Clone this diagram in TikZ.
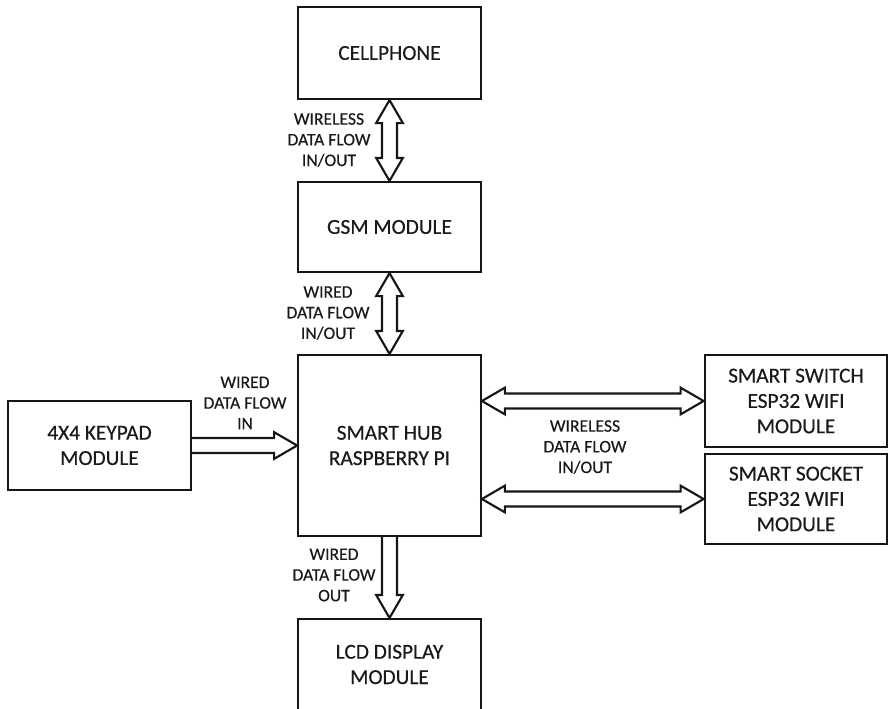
\documentclass[tikz,border=0pt]{standalone}
\usepackage{fontspec}
\setmainfont{Carlito}[FakeBold=0.4]
\usepackage{tikz}
\usetikzlibrary{calc}
\definecolor{HubInk}{HTML}{161616}
\definecolor{HubText}{HTML}{1A1A1A}
\newcommand{\headlen}{17.25pt}
\newcommand{\headhw}{10pt}
\newcommand{\shafthw}{5.6pt}
\tikzset{
  blk/.style={draw=HubInk, line width=1.6pt, minimum width=137pt, inner sep=0pt,
    align=center, text=HubText, font=\fontsize{16}{19}\selectfont},
  flowlbl/.style={align=center, text=HubText, inner sep=0pt,
    font=\fontsize{13.2}{15.5}\selectfont},
  flowline/.style={draw=HubInk, line width=1.6pt, line join=miter}
}
\newcommand{\dblflow}[2]{%
  \draw[flowline] (#1)
    -- ($(#1)!\headlen!(#2)!\headhw!90:(#2)$)
    -- ($(#1)!\headlen!(#2)!\shafthw!90:(#2)$)
    -- ($(#2)!\headlen!(#1)!\shafthw!270:(#1)$)
    -- ($(#2)!\headlen!(#1)!\headhw!270:(#1)$)
    -- (#2)
    -- ($(#2)!\headlen!(#1)!\headhw!90:(#1)$)
    -- ($(#2)!\headlen!(#1)!\shafthw!90:(#1)$)
    -- ($(#1)!\headlen!(#2)!\shafthw!270:(#2)$)
    -- ($(#1)!\headlen!(#2)!\headhw!270:(#2)$)
    -- cycle;}
\newcommand{\oneflow}[2]{%
  \draw[flowline] ($(#1)!\shafthw!90:(#2)$)
    -- ($(#2)!\headlen!(#1)!\shafthw!270:(#1)$)
    -- ($(#2)!\headlen!(#1)!\headhw!270:(#1)$)
    -- (#2)
    -- ($(#2)!\headlen!(#1)!\headhw!90:(#1)$)
    -- ($(#2)!\headlen!(#1)!\shafthw!90:(#1)$)
    -- ($(#1)!\shafthw!270:(#2)$);}

\begin{document}
\begin{tikzpicture}[x=0.75pt, y=-0.75pt]
  \useasboundingbox (0,0) rectangle (888,708);
  \clip (0,0) rectangle (888,708);
  \foreach \nm/\cx/\cy/\bh/\txt in {
    cell/389.5/53/69pt/CELLPHONE,
    gsm/389.5/227/67.5pt/GSM MODULE,
    hub/389.5/445.5/135.75pt/{SMART HUB\\RASPBERRY PI},
    kp/99.5/445.5/66.75pt/{4X4 KEYPAD\\MODULE},
    sw/796/401/69pt/{SMART SWITCH\\ESP32 WIFI\\MODULE},
    sk/796/499/67.5pt/{SMART SOCKET\\ESP32 WIFI\\MODULE},
    lcd/389.5/664.5/68.25pt/{LCD DISPLAY\\MODULE}}{
    \node[blk, minimum height=\bh] (\nm) at (\cx,\cy) {\txt};
  }
  \coordinate (hubsw) at (hub.east |- sw.west);
  \coordinate (hubsk) at (hub.east |- sk.west);
  \dblflow{cell.south}{gsm.north}
  \dblflow{gsm.south}{hub.north}
  \dblflow{hubsw}{sw.west}
  \dblflow{hubsk}{sk.west}
  \oneflow{kp.east}{hub.west}
  \oneflow{hub.south}{lcd.north}
  \node[flowlbl] (lblcell) at (329,140) {WIRELESS\\DATA FLOW\\IN/OUT};
  \node[flowlbl] (lblgsm) at (328,313) {WIRED\\DATA FLOW\\IN/OUT};
  \node[flowlbl] (lblkp) at (245,403) {WIRED\\DATA FLOW\\IN};
  \node[flowlbl] (lblwifi) at (585,447) {WIRELESS\\DATA FLOW\\IN/OUT};
  \node[flowlbl] (lbllcd) at (334,575) {WIRED\\DATA FLOW\\OUT};
\end{tikzpicture}
\end{document}
